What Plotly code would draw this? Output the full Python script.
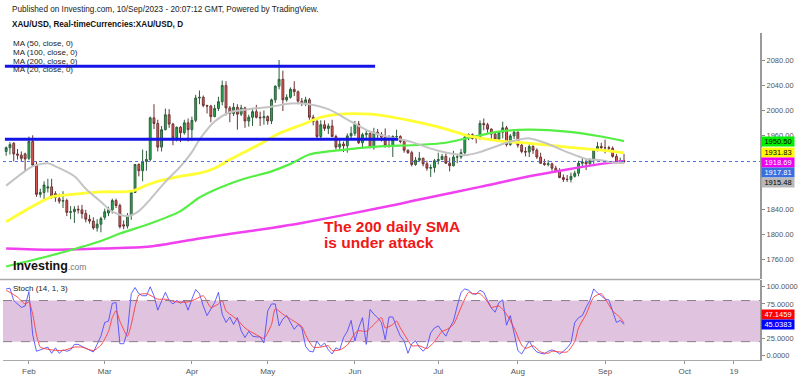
import pandas as pd
import plotly.graph_objects as go

# ---------------- data ----------------
dates = pd.bdate_range("2023-01-24", "2023-09-08")  # daily bars (weekdays)

opens = [1934,1940,1947,1930,1928,1930,1923,1950,1912,1865,1868,1875,1877,1866,1858,1854,1855,1836,1837,1841,1840,1834,1825,1822,1811,1817,
         1828,1835,1840,1855,1847,1816,1814,1831,1868,1913,1903,1918,1921,1988,1979,1941,1969,1993,1978,1956,1973,1964,1980,
         1969,1984,2020,2021,2008,2007,1990,2003,2014,2040,2004,1995,2005,1994,2004,1983,1989,1998,1989,1988,
         1990,1983,2017,2039,2050,2017,2021,2034,2030,2015,2011,2017,1989,1982,1958,1977,1971,1975,1958,1941,1946,1943,1959,
         1963,1978,1948,1961,1963,1940,1965,1961,1957,1944,1943,1958,1958,1950,1936,1932,1913,1920,1923,1914,1907,1908,
         1919,1921,1926,1915,1911,1925,1925,1932,1957,1961,1955,1955,1979,1977,1970,1962,1954,1965,1972,1945,1959,
         1965,1944,1934,1933,1942,1936,1925,1915,1913,1914,1907,1902,1892,1889,1889,1894,1899,1915,1917,1914,1920,1937,1942,
         1940,1940,1939,1926,1916,1919]
highs = [1942,1949,1949,1938,1934,1932,1958,1960,1918,1874,1886,1890,1890,1870,1866,1870,1858,1846,1846,1847,1848,1840,1832,1828,1825,1829,
         1842,1845,1858,1858,1850,1823,1835,1870,1914,1915,1937,1935,1990,2010,1985,1975,2003,2002,1980,1974,1975,1985,1987,
         1990,2025,2032,2024,2009,2009,2009,2022,2048,2047,2007,2012,2010,2009,2006,1993,2004,2009,1998,2000,
         1992,2019,2040,2081,2064,2026,2037,2047,2032,2020,2022,2020,1993,1987,1984,1984,1979,1985,1961,1955,1950,1963,1974,
         1983,1983,1964,1970,1965,1972,1970,1965,1971,1960,1960,1969,1960,1953,1937,1935,1925,1933,1924,1919,1913,1922,
         1932,1930,1931,1924,1935,1930,1938,1960,1963,1963,1957,1984,1987,1980,1971,1966,1966,1982,1975,1962,1970,
         1966,1949,1941,1947,1944,1939,1932,1922,1920,1916,1911,1907,1897,1896,1900,1903,1919,1923,1922,1923,1938,1949,1948,
         1953,1943,1942,1930,1924,1930]
lows = [1927,1929,1918,1921,1917,1902,1920,1910,1861,1860,1857,1868,1858,1853,1850,1843,1830,1825,1819,1834,1826,1820,1818,1808,1805,1804,
        1824,1830,1834,1843,1810,1809,1810,1824,1867,1894,1886,1903,1918,1970,1934,1934,1968,1972,1944,1950,1949,1961,1950,
        1951,1981,2010,2005,1995,1981,1989,1999,2008,1992,1981,1991,1969,1991,1972,1974,1975,1987,1975,1977,
        1977,1978,2012,2034,1999,2014,2019,2023,2010,2007,2007,1985,1976,1955,1952,1967,1962,1957,1937,1936,1933,1932,1954,
        1959,1946,1938,1955,1940,1937,1955,1950,1940,1940,1925,1953,1947,1932,1930,1910,1911,1918,1910,1903,1893,1900,
        1913,1920,1914,1902,1910,1915,1922,1929,1952,1953,1947,1953,1968,1964,1954,1951,1951,1955,1942,1943,1954,
        1940,1931,1926,1925,1930,1922,1914,1911,1910,1903,1900,1891,1885,1885,1884,1892,1894,1910,1904,1913,1914,1934,1937,
        1931,1936,1924,1915,1915,1915]
closes = [1940,1945,1930,1928,1923,1922,1950,1912,1865,1868,1880,1877,1862,1860,1854,1855,1836,1837,1841,1840,1834,1825,1822,1811,1817,1826,
          1837,1840,1855,1847,1813,1814,1831,1868,1913,1903,1918,1921,1988,1979,1941,1969,1993,1978,1956,1973,1964,1980,1969,
          1984,2020,2021,2008,2007,1990,2003,2014,2040,2004,1995,2005,1994,2004,1983,1989,1998,1989,1988,1990,
          1983,2017,2039,2050,2017,2021,2034,2030,2015,2011,2017,1989,1982,1958,1977,1971,1975,1958,1941,1946,1943,1959,1963,
          1978,1948,1961,1963,1940,1965,1961,1957,1944,1943,1958,1958,1950,1936,1932,1913,1920,1923,1914,1907,1908,1919,
          1921,1926,1915,1911,1925,1925,1932,1957,1961,1955,1955,1979,1977,1970,1962,1954,1965,1972,1945,1959,1965,
          1944,1934,1933,1942,1936,1925,1915,1913,1914,1907,1902,1892,1889,1889,1894,1899,1915,1917,1914,1920,1937,1942,1940,
          1940,1939,1926,1916,1919,1917.81]

# moving averages at sample dates
ma20_dates = ["2023-01-24","2023-01-30","2023-02-02","2023-02-08","2023-02-10","2023-02-17","2023-02-22","2023-02-28",
              "2023-03-03","2023-03-09","2023-03-14","2023-03-17","2023-03-23","2023-03-29","2023-04-03","2023-04-05",
              "2023-04-11","2023-04-17","2023-04-24","2023-05-02","2023-05-09","2023-05-16","2023-05-23","2023-05-31",
              "2023-06-07","2023-06-14","2023-06-22","2023-07-03","2023-07-12","2023-07-18","2023-07-27","2023-08-04",
              "2023-08-11","2023-08-18","2023-08-25","2023-08-31","2023-09-04","2023-09-08"]
ma20_vals = [1879,1898,1910,1915,1910,1894,1874,1853,1837,1830,1838,1857,1885,1910,1933,1953,
             1982,1997,2002,2006,2011,2010,2002,1982,1966,1957,1949,1935,1928,1933,1948,1955,
             1946,1933,1922,1920,1917,1915.48]

ma50_dates = ["2023-01-24","2023-02-02","2023-02-09","2023-02-15","2023-02-28","2023-03-10","2023-03-17","2023-03-28",
              "2023-04-05","2023-04-11","2023-04-17","2023-04-27","2023-05-04","2023-05-12","2023-05-19","2023-05-26",
              "2023-06-07","2023-06-14","2023-06-22","2023-07-05","2023-07-13","2023-07-25","2023-08-04","2023-08-18",
              "2023-08-31","2023-09-08"]
ma50_vals = [1821,1846,1861,1864,1869,1870,1882,1893,1899,1907,1921,1946,1963,1977,1989,1994,
             1994,1990,1983,1970,1959,1951,1947,1941,1936,1931.83]

ma100_dates = ["2023-01-24","2023-02-09","2023-02-28","2023-03-07","2023-03-17","2023-03-29","2023-04-05","2023-04-17",
               "2023-04-24","2023-05-02","2023-05-09","2023-05-16","2023-05-23","2023-05-31","2023-06-07","2023-06-14",
               "2023-06-22","2023-07-05","2023-07-13","2023-07-25","2023-08-04","2023-08-18","2023-08-31","2023-09-08"]
ma100_vals = [1749,1767,1790,1802,1818,1838,1860,1882,1892,1902,1914,1929,1934,1938,1941,1943,
              1944,1948,1956,1966,1969,1966,1958,1950.50]

ma200_dates = ["2023-01-24","2023-02-09","2023-02-28","2023-03-17","2023-04-05","2023-05-02","2023-05-12","2023-05-31",
               "2023-06-19","2023-06-27","2023-07-18","2023-08-04","2023-08-18","2023-08-31","2023-09-08"]
ma200_vals = [1778,1776,1778,1781,1794,1811,1819,1834,1850,1858,1877,1894,1905,1914,1918.69]

# stochastic (14,1,3): %K per bar, %D at sample dates
stoch_k = [97,98,80,75,70,72,93,30,6,8,10,12,3,11,3,8,6,8,16,16,13,10,8,5,16,28,
           48,50,76,77,17,17,35,90,99,90,87,87,100,87,66,80,92,80,75,80,76,80,66,
           82,96,90,72,58,68,77,92,60,48,56,45,55,36,26,35,28,27,27,18,
           65,75,75,43,53,58,49,38,45,40,13,6,5,21,13,18,8,2,11,8,26,35,51,
           21,40,55,16,67,60,55,48,23,56,56,41,28,21,3,17,21,12,6,12,33,40,
           43,35,28,40,50,72,92,97,95,90,89,95,92,80,69,63,77,81,44,58,31,
           7,2,11,21,11,5,3,2,6,8,6,2,6,11,18,48,55,58,70,80,97,91,87,
           82,81,65,48,51,45.0383]
stoch_d_dates = ["2023-01-24","2023-01-27","2023-01-31","2023-02-01","2023-02-02","2023-02-03","2023-02-06","2023-02-07",
                 "2023-02-09","2023-02-14","2023-02-17","2023-02-21","2023-02-24","2023-02-28","2023-03-02","2023-03-03",
                 "2023-03-06","2023-03-07","2023-03-09","2023-03-10","2023-03-14","2023-03-16","2023-03-21","2023-03-23",
                 "2023-03-28","2023-03-31","2023-04-04","2023-04-06","2023-04-10","2023-04-12","2023-04-13","2023-04-14",
                 "2023-04-19","2023-04-21","2023-04-26","2023-04-28","2023-05-02","2023-05-03","2023-05-05","2023-05-09",
                 "2023-05-12","2023-05-15","2023-05-17","2023-05-19","2023-05-23","2023-05-24","2023-05-26","2023-05-30",
                 "2023-06-01","2023-06-02","2023-06-06","2023-06-08","2023-06-12","2023-06-13","2023-06-15","2023-06-16",
                 "2023-06-19","2023-06-21","2023-06-22","2023-06-26","2023-06-28","2023-06-30","2023-07-04","2023-07-05",
                 "2023-07-07","2023-07-11","2023-07-13","2023-07-14","2023-07-18","2023-07-20","2023-07-21","2023-07-25",
                 "2023-07-27","2023-07-31","2023-08-02","2023-08-03","2023-08-07","2023-08-09","2023-08-11","2023-08-14",
                 "2023-08-16","2023-08-18","2023-08-22","2023-08-23","2023-08-25","2023-08-29","2023-08-31","2023-09-01",
                 "2023-09-05","2023-09-07","2023-09-08"]
stoch_d_vals = [95,85,75,78,60,30,12,10,8,7,12,12,7,15,35,55,
                65,50,28,45,88,90,82,82,78,78,82,87,70,75,80,65,
                52,40,30,25,45,68,60,53,42,30,12,12,14,7,8,15,
                32,36,35,45,55,40,45,50,40,22,14,14,10,20,35,37,
                45,70,92,90,90,78,70,72,60,40,15,10,14,5,3,6,
                5,5,20,40,60,85,90,83,65,55,47.1459]

# horizontal resistance lines drawn on the chart
level_values = [2071, 1953.5]
level_start = "2023-01-23 16:00"
level_ends = ["2023-06-08 08:00", "2023-06-16 10:00"]
last_close = 1917.81

month_ticks = ["2023-02-01","2023-03-01","2023-04-03","2023-05-01","2023-06-01","2023-07-03",
               "2023-08-01","2023-09-01","2023-10-02","2023-10-19"]
month_labels = ["Feb","Mar","Apr","May","Jun","Jul","Aug","Sep","Oct","19"]
price_ticks = [1760,1800,1840,1880,1920,1960,2000,2040,2080]
price_labels = ["1760.00","1800.00","1840.00","","","1960.00","2000.00","2040.00","2080.00"]  # 1880/1920 hidden by value boxes
stoch_ticks = [0,25,75,100]

# ---------------- figure ----------------
W, H = 800, 376
X0, X1 = 3 / W, 760 / W
FONT = "Arial"

fig = go.Figure()

fig.add_trace(go.Candlestick(
    x=dates, open=opens, high=highs, low=lows, close=closes,
    increasing=dict(line=dict(color="#2f5e3c", width=1), fillcolor="#22b550"),
    decreasing=dict(line=dict(color="#6b3434", width=1), fillcolor="#ee5b55"),
    whiskerwidth=0, xaxis="x", yaxis="y", hoverinfo="skip"))

for d, v, col, w in [(ma200_dates, ma200_vals, "#f040f0", 2.5),
                     (ma100_dates, ma100_vals, "#55ee44", 2.2),
                     (ma50_dates, ma50_vals, "#ffff33", 2.8),
                     (ma20_dates, ma20_vals, "#c4c4c4", 2.0)]:
    fig.add_trace(go.Scatter(x=d, y=v, mode="lines", line=dict(color=col, width=w, shape="spline", smoothing=0.8),
                             xaxis="x", yaxis="y", hoverinfo="skip"))

fig.add_trace(go.Scatter(x=dates, y=stoch_k, mode="lines", line=dict(color="rgba(70,70,255,0.85)", width=1),
                         xaxis="x2", yaxis="y2", hoverinfo="skip"))
fig.add_trace(go.Scatter(x=stoch_d_dates, y=stoch_d_vals, mode="lines",
                         line=dict(color="rgba(255,60,60,0.9)", width=1, shape="spline", smoothing=0.6),
                         xaxis="x2", yaxis="y2", hoverinfo="skip"))

xr = ["2023-01-23 04:00", "2023-10-27 21:00"]
rb = [dict(bounds=["sat", "mon"])]
axfont = dict(family=FONT, size=7.5, color="#555")

fig.update_layout(
    width=W, height=H, margin=dict(l=0, r=0, t=0, b=0),
    paper_bgcolor="white", plot_bgcolor="white", showlegend=False,
    xaxis=dict(domain=[X0, X1], anchor="y", range=xr, rangebreaks=rb, showticklabels=False,
               showgrid=False, zeroline=False, rangeslider=dict(visible=False), ticks=""),
    xaxis2=dict(domain=[X0, X1], anchor="y2", range=xr, rangebreaks=rb, matches="x",
                tickvals=month_ticks, ticktext=month_labels, tickfont=dict(family=FONT, size=8, color="#555"),
                ticks="outside", ticklen=3, tickcolor="#999", showgrid=False, zeroline=False,
                showline=True, linecolor="#aaa", linewidth=1, rangeslider=dict(visible=False)),
    yaxis=dict(domain=[96 / H, 343 / H], anchor="x", side="right", range=[1729.6, 2124.8],
               tickvals=price_ticks, ticktext=price_labels, tickfont=axfont, ticks="outside", ticklen=3,
               tickcolor="#888", showline=True, linecolor="#999", linewidth=2, showgrid=False, zeroline=False),
    yaxis2=dict(domain=[14 / H, 95 / H], anchor="x2", side="right", range=[-6.9, 110.7],
                tickvals=stoch_ticks, tickformat=".4f", tickfont=axfont, ticks="outside", ticklen=3,
                tickcolor="#888", showline=True, linecolor="#999", linewidth=2, showgrid=False, zeroline=False),
)

shapes = []
shapes.append(dict(type="rect", xref="paper", yref="y2", x0=X0, x1=X1, y0=20, y1=80,
                   fillcolor="#dfc3df", line=dict(width=0), layer="below"))
for lv in (20, 80):
    shapes.append(dict(type="line", xref="paper", yref="y2", x0=X0, x1=X1, y0=lv, y1=lv,
                       line=dict(color="#8c7c8c", width=1, dash="dash")))
shapes.append(dict(type="line", xref="paper", yref="paper", x0=0, x1=X1, y0=(H - 281) / H, y1=(H - 281) / H,
                   line=dict(color="#aaa", width=1.5)))
shapes.append(dict(type="line", xref="paper", yref="y", x0=X0, x1=X1, y0=last_close, y1=last_close,
                   line=dict(color="#4d72e0", width=1, dash="dot")))
for lv, end in zip(level_values, level_ends):
    shapes.append(dict(type="line", xref="x", yref="y", x0=level_start, x1=end, y0=lv, y1=lv,
                       line=dict(color="#1414e6", width=3)))
fig.update_layout(shapes=shapes)

ann = []
ann.append(dict(x=10 / W, y=(H - 10) / H, xref="paper", yref="paper", xanchor="left", yanchor="middle",
                text="Published on Investing.com, 10/Sep/2023 - 20:07:12 GMT, Powered by TradingView.",
                font=dict(family=FONT, size=8.2, color="#222"), showarrow=False))
ann.append(dict(x=10 / W, y=(H - 25) / H, xref="paper", yref="paper", xanchor="left", yanchor="middle",
                text="<b>XAU/USD, Real-timeCurrencies:XAU/USD, D</b>",
                font=dict(family=FONT, size=8.2, color="#111"), showarrow=False))
for k, t in enumerate(["MA (50, close, 0)", "MA (100, close, 0)", "MA (200, close, 0)", "MA (20, close, 0)"]):
    ann.append(dict(x=11 / W, y=(H - 44 - 8.7 * k) / H, xref="paper", yref="paper", xanchor="left", yanchor="middle",
                    text=t, font=dict(family=FONT, size=8, color="#222"), showarrow=False))
ann.append(dict(x=11 / W, y=(H - 290) / H, xref="paper", yref="paper", xanchor="left", yanchor="middle",
                text="Stoch (14, 1, 3)", font=dict(family=FONT, size=8, color="#222"), showarrow=False))
ann.append(dict(x=11 / W, y=(H - 267) / H, xref="paper", yref="paper", xanchor="left", yanchor="middle",
                text="<b>Investing</b><span style='font-size:8.5px;color:#777'>.com</span>",
                font=dict(family=FONT, size=12.5, color="#111"), showarrow=False))
ann.append(dict(x=322 / W, y=(H - 228) / H, xref="paper", yref="paper", xanchor="left", yanchor="middle",
                text="<b>The 200 daily SMA</b>", font=dict(family=FONT, size=15.5, color="#f01818"), showarrow=False))
ann.append(dict(x=322 / W, y=(H - 244) / H, xref="paper", yref="paper", xanchor="left", yanchor="middle",
                text="<b>is under attack</b>", font=dict(family=FONT, size=15.5, color="#f01818"), showarrow=False))

boxes = [(ma100_vals[-1], "#00ee00", "#000", 0, "y", "{:.2f}"),
         (ma50_vals[-1], "#ffff00", "#000", 0, "y", "{:.2f}"),
         (ma200_vals[-1], "#ee00ee", "#fff", -2, "y", "{:.2f}"),
         (last_close, "#3a6ee0", "#fff", -10.5, "y", "{:.2f}"),
         (ma20_vals[-1], "#b8b8b8", "#000", -19.5, "y", "{:.2f}"),
         (stoch_d_vals[-1], "#ff0000", "#fff", 8.6, "y2", "{:.4f}"),
         (stoch_k[-1], "#0000ff", "#fff", 0, "y2", "{:.4f}")]
for v, bg, fc, ys, yr, fmt in boxes:
    ann.append(dict(x=761 / W, y=v, xref="paper", yref=yr, xanchor="left", yanchor="middle",
                    text=fmt.format(v), bgcolor=bg, font=dict(family=FONT, size=7.5, color=fc),
                    showarrow=False, width=31, height=8, borderpad=0.5, yshift=ys))
fig.update_layout(annotations=ann)

fig.write_html("out.html", config={"displayModeBar": False},
               post_script="document.body.style.margin='0px';")
